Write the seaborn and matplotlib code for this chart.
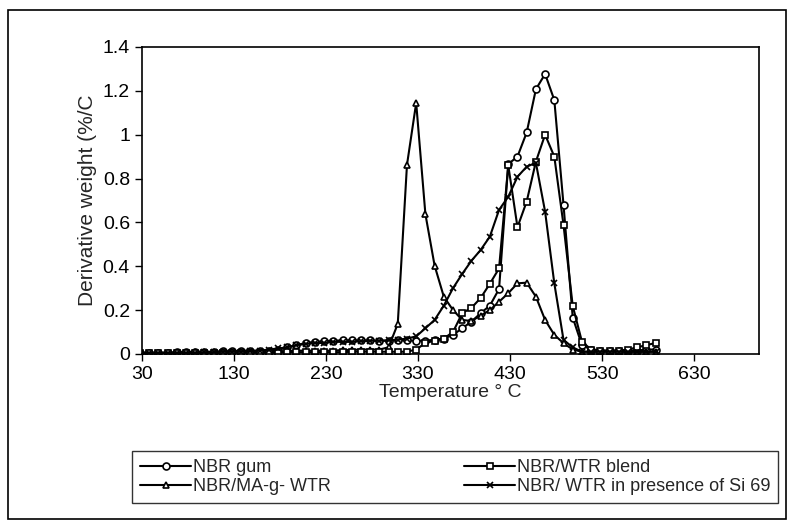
# DTG curves: NBR gum vs WTR blends
import numpy as np
import seaborn as sns
import matplotlib.pyplot as plt
from matplotlib.patches import Rectangle
from matplotlib.ticker import FuncFormatter

sns.set_style('white')
plt.rcParams['font.family'] = ['Liberation Sans', 'DejaVu Sans']

# temperature of each reading (°C), one every 10 degrees
temp = np.arange(28, 598, 10)

nbr_gum = [0.005, 0.005, 0.005, 0.005, 0.008, 0.008, 0.01, 0.01, 0.01, 0.012,
           0.012, 0.014, 0.015, 0.015, 0.015, 0.02, 0.03, 0.04, 0.05, 0.055,
           0.058, 0.06, 0.062, 0.062, 0.062, 0.062, 0.06, 0.06, 0.062, 0.062,
           0.06, 0.06, 0.065, 0.07, 0.087, 0.117, 0.147, 0.186, 0.22, 0.296,
           0.866, 0.90, 1.01, 1.207, 1.277, 1.158, 0.68, 0.166, 0.04, 0.02,
           0.015, 0.015, 0.015, 0.015, 0.015, 0.02, 0.02]

nbr_wtr = [0.005, 0.005, 0.005, 0.005, 0.005, 0.005, 0.005, 0.005, 0.005, 0.005,
           0.005, 0.005, 0.005, 0.005, 0.005, 0.005, 0.008, 0.008, 0.008, 0.008,
           0.008, 0.008, 0.008, 0.01, 0.01, 0.01, 0.01, 0.01, 0.01, 0.01,
           0.02, 0.05, 0.06, 0.07, 0.10, 0.186, 0.21, 0.255, 0.32, 0.39,
           0.86, 0.578, 0.695, 0.877, 1.0, 0.90, 0.588, 0.219, 0.056, 0.02,
           0.015, 0.015, 0.015, 0.02, 0.03, 0.04, 0.05]

nbr_ma = [0.005, 0.005, 0.005, 0.005, 0.005, 0.005, 0.008, 0.008, 0.008, 0.01,
          0.01, 0.01, 0.01, 0.01, 0.012, 0.012, 0.012, 0.015, 0.015, 0.015,
          0.015, 0.015, 0.018, 0.018, 0.02, 0.02, 0.02, 0.03, 0.137, 0.862,
          1.145, 0.638, 0.403, 0.261, 0.20, 0.155, 0.15, 0.175, 0.20, 0.238,
          0.277, 0.322, 0.325, 0.261, 0.155, 0.087, 0.049, 0.02, 0.01, 0.01,
          0.01, 0.01, 0.01, 0.01, 0.01, 0.01, 0.01]

nbr_si69 = [0.005, 0.005, 0.005, 0.005, 0.005, 0.005, 0.005, 0.008, 0.008, 0.01,
            0.01, 0.01, 0.012, 0.015, 0.02, 0.025, 0.03, 0.04, 0.045, 0.05,
            0.05, 0.055, 0.055, 0.055, 0.058, 0.06, 0.06, 0.062, 0.065, 0.07,
            0.08, 0.117, 0.155, 0.22, 0.30, 0.365, 0.425, 0.474, 0.535, 0.657,
            0.717, 0.808, 0.854, 0.872, 0.649, 0.322, 0.064, 0.03, 0.01, 0.01,
            0.01, 0.01, 0.01, 0.01, 0.01, 0.01, 0.01]

series = [('NBR gum', nbr_gum, 'o'),
          ('NBR/MA-g- WTR', nbr_ma, '^'),
          ('NBR/WTR blend', nbr_wtr, 's'),
          ('NBR/ WTR in presence of Si 69', nbr_si69, 'x')]

fig = plt.figure(figsize=(7.92, 5.22), dpi=100)
ax = fig.add_axes([0.179, 0.322, 0.779, 0.588])

for name, vals, mk in series:
    sns.lineplot(x=temp, y=vals, ax=ax, color='black', lw=1.5,
                 marker=mk, markersize=5, markerfacecolor='white',
                 markeredgecolor='black', markeredgewidth=1.2, label=name)

ax.set_xlim(30, 700)
ax.set_ylim(0, 1.4)
ax.set_xticks(range(30, 700, 100))
ax.set_yticks(np.arange(0, 1.41, 0.2))
ax.yaxis.set_major_formatter(FuncFormatter(lambda v, p: f'{v:g}'))
ax.tick_params(direction='out', length=5, width=1, labelsize=14,
               bottom=True, left=True, colors='black')
for s in ax.spines.values():
    s.set_color('black')
    s.set_linewidth(1.2)

ax.set_xlabel('Temperature ° C', fontsize=14, labelpad=1)
ax.set_ylabel('Derivative weight (%/C', fontsize=15, labelpad=4)

# legend box below the plot
handles, labels = ax.get_legend_handles_labels()
ax.get_legend().remove()
leg = fig.legend(handles, labels, loc='upper left', ncol=2,
                 bbox_to_anchor=(0.167, 0.136),
                 frameon=True, fancybox=False, edgecolor='black', fontsize=13,
                 handlelength=2.8, handletextpad=0.1, borderaxespad=0,
                 borderpad=0.45, labelspacing=0.1, columnspacing=7.4)
leg.get_frame().set_linewidth(1)

# outer frame of the chart
fig.patches.append(Rectangle((0.01, 0.005), 0.983, 0.975, transform=fig.transFigure,
                             fill=False, edgecolor='black', lw=1.2))

fig.savefig('out.png', dpi=100)
